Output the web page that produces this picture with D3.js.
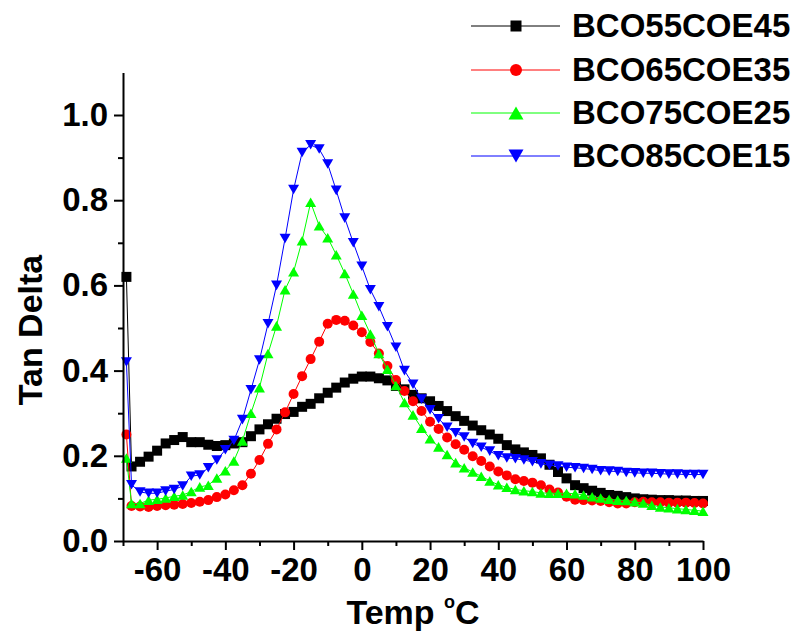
<!DOCTYPE html>
<html>
<head>
<meta charset="utf-8">
<script src="https://cdn.jsdelivr.net/npm/d3@7"></script>
<style>
  html, body { margin: 0; padding: 0; background: #fff; }
  svg { display: block; }
  text { font-family: "Liberation Sans", Arial, Helvetica, sans-serif; font-weight: bold; fill: #000; }
</style>
</head>
<body>
<svg id="chart" width="798" height="633"></svg>
<script>
// ---- data ----
const temps = [-69, -67.5, -65, -62.5, -60, -57.5, -55, -52.5, -50, -47.5, -45, -42.5, -40, -37.5, -35, -32.5,
  -30, -27.5, -25, -22.5, -20, -17.5, -15, -12.5, -10, -7.5, -5, -2.5, 0, 2.5, 5, 7.5, 10, 12.5, 15, 17.5,
  20, 22.5, 25, 27.5, 30, 32.5, 35, 37.5, 40, 42.5, 45, 47.5, 50, 52.5, 55, 57.5, 60, 62.5, 65, 67.5,
  70, 72.5, 75, 77.5, 80, 82.5, 85, 87.5, 90, 92.5, 95, 97.5, 100];

const bco55 = [0.62, 0.175, 0.186, 0.198, 0.212, 0.229, 0.237, 0.244, 0.232, 0.232, 0.226, 0.223, 0.225, 0.229, 0.232, 0.246,
  0.262, 0.274, 0.287, 0.298, 0.303, 0.315, 0.322, 0.335, 0.348, 0.36, 0.372, 0.381, 0.386, 0.386, 0.382, 0.377, 0.364, 0.356, 0.343, 0.335,
  0.328, 0.317, 0.305, 0.293, 0.282, 0.271, 0.26, 0.25, 0.24, 0.225, 0.215, 0.208, 0.202, 0.194, 0.179, 0.162, 0.147, 0.131, 0.124, 0.118,
  0.113, 0.108, 0.106, 0.103, 0.100, 0.098, 0.097, 0.096, 0.096, 0.095, 0.095, 0.094, 0.094];

const bco65 = [0.25, 0.082, 0.081, 0.080, 0.082, 0.084, 0.085, 0.087, 0.089, 0.092, 0.096, 0.103, 0.109, 0.119, 0.131, 0.158,
  0.19, 0.228, 0.262, 0.302, 0.345, 0.387, 0.427, 0.468, 0.51, 0.519, 0.517, 0.506, 0.49, 0.467, 0.44, 0.411, 0.378, 0.352, 0.328, 0.305,
  0.28, 0.263, 0.243, 0.227, 0.214, 0.199, 0.188, 0.175, 0.163, 0.154, 0.145, 0.141, 0.137, 0.131, 0.121, 0.114, 0.104, 0.097, 0.096, 0.095,
  0.094, 0.091, 0.088, 0.088, 0.091, 0.092, 0.091, 0.091, 0.090, 0.090, 0.090, 0.089, 0.088];

const bco75 = [0.195, 0.088, 0.088, 0.096, 0.098, 0.101, 0.105, 0.108, 0.116, 0.127, 0.131, 0.148, 0.165, 0.188, 0.235, 0.30,
  0.36, 0.44, 0.505, 0.59, 0.632, 0.705, 0.795, 0.74, 0.712, 0.672, 0.628, 0.58, 0.53, 0.486, 0.44, 0.403, 0.365, 0.325, 0.296, 0.265,
  0.24, 0.221, 0.203, 0.184, 0.172, 0.162, 0.152, 0.141, 0.132, 0.126, 0.121, 0.118, 0.116, 0.113, 0.112, 0.112, 0.112, 0.111, 0.108, 0.104,
  0.101, 0.098, 0.096, 0.095, 0.092, 0.089, 0.084, 0.080, 0.078, 0.076, 0.074, 0.072, 0.070];

const bco85 = [0.42, 0.132, 0.115, 0.112, 0.112, 0.117, 0.121, 0.129, 0.152, 0.155, 0.172, 0.19, 0.214, 0.236, 0.285, 0.355,
  0.425, 0.51, 0.60, 0.71, 0.825, 0.912, 0.93, 0.92, 0.885, 0.823, 0.758, 0.70, 0.645, 0.59, 0.55, 0.503, 0.455, 0.40, 0.368, 0.333,
  0.308, 0.287, 0.267, 0.254, 0.244, 0.229, 0.22, 0.211, 0.20, 0.195, 0.193, 0.19, 0.186, 0.181, 0.178, 0.176, 0.173, 0.172, 0.170, 0.168,
  0.165, 0.164, 0.163, 0.161, 0.160, 0.159, 0.159, 0.158, 0.157, 0.157, 0.156, 0.156, 0.156];

const seriesNames = ["BCO55COE45", "BCO65COE35", "BCO75COE25", "BCO85COE15"];
const seriesColors = ["#000000", "#ff0000", "#00ff00", "#0000ff"];
const seriesMarkers = ["square", "circle", "triangleUp", "triangleDown"];
const seriesValues = [bco55, bco65, bco75, bco85];

const xMajorTicks = [-60, -40, -20, 0, 20, 40, 60, 80, 100];
const xMinorTicks = [-70, -50, -30, -10, 10, 30, 50, 70, 90];
const yMajorTicks = [0.0, 0.2, 0.4, 0.6, 0.8, 1.0];
const yMinorTicks = [0.1, 0.3, 0.5, 0.7, 0.9];

// ---- layout ----
const svg = d3.select("#chart");
const x = d3.scaleLinear().domain([-70, 100]).range([123, 703]);
const y = d3.scaleLinear().domain([0, 1.1]).range([541, 72.4]);

const series = seriesNames.map((name, i) => ({
  name, color: seriesColors[i], marker: seriesMarkers[i],
  points: temps.map((t, j) => ({ t, v: seriesValues[i][j] }))
}));

function drawMarker(g, type, color, cx, cy, s) {
  if (type === "square") {
    g.append("rect").attr("x", cx - s / 2).attr("y", cy - s / 2).attr("width", s).attr("height", s).attr("fill", color);
  } else if (type === "circle") {
    g.append("circle").attr("cx", cx).attr("cy", cy).attr("r", s / 2).attr("fill", color);
  } else {
    const h = s * 0.87;
    const up = type === "triangleUp";
    const pts = up
      ? [[cx - s / 2, cy + h / 2], [cx + s / 2, cy + h / 2], [cx, cy - h / 2]]
      : [[cx - s / 2, cy - h / 2], [cx + s / 2, cy - h / 2], [cx, cy + h / 2]];
    g.append("path").attr("d", "M" + pts.map(p => p.join(",")).join("L") + "Z").attr("fill", color);
  }
}

const markerSize = { square: 10, circle: 10, triangleUp: 11, triangleDown: 11 };

const line = d3.line().x(d => x(d.t)).y(d => y(d.v));
const plot = svg.append("g");
series.forEach(s => {
  const g = plot.append("g");
  g.append("path").datum(s.points).attr("d", line)
    .attr("fill", "none").attr("stroke", s.color).attr("stroke-width", 1);
  s.points.forEach(p => drawMarker(g, s.marker, s.color, x(p.t), y(p.v), markerSize[s.marker]));
});

// ---- axes ----
const fontSize = 33;
const xAxisG = svg.append("g").attr("transform", "translate(0,541)");
xAxisG.call(d3.axisBottom(x).tickValues(xMajorTicks).tickSize(9).tickSizeOuter(0).tickPadding(8)
  .tickFormat(d => String(d)));
svg.append("g").attr("transform", "translate(0,541)")
  .call(d3.axisBottom(x).tickValues(xMinorTicks).tickSize(5).tickSizeOuter(0).tickFormat(""))
  .select(".domain").remove();

const yAxisG = svg.append("g").attr("transform", "translate(123,0)");
yAxisG.call(d3.axisLeft(y).tickValues(yMajorTicks).tickSize(9).tickSizeOuter(0).tickPadding(6)
  .tickFormat(d3.format(".1f")));
svg.append("g").attr("transform", "translate(123,0)")
  .call(d3.axisLeft(y).tickValues(yMinorTicks).tickSize(5).tickSizeOuter(0).tickFormat(""))
  .select(".domain").remove();

svg.selectAll(".domain").attr("stroke", "#000").attr("stroke-width", 2);
svg.selectAll(".tick line").attr("stroke", "#000").attr("stroke-width", 2);
svg.selectAll(".tick text")
  .style("font-family", "'Liberation Sans', Arial, sans-serif")
  .style("font-weight", "bold").style("font-size", fontSize + "px").attr("fill", "#000");

// axis titles
svg.append("text")
  .attr("transform", "translate(42,330) rotate(-90)")
  .attr("text-anchor", "middle")
  .style("font-size", "34px")
  .text("Tan Delta");

const xt = svg.append("text")
  .attr("x", 413).attr("y", 624)
  .attr("text-anchor", "middle")
  .style("font-size", "34px");
xt.append("tspan").text("Temp ");
xt.append("tspan").attr("dy", -16).style("font-size", "18px").text("o");
xt.append("tspan").attr("dy", 16).text("C");

// ---- legend ----
const legendRows = [26, 70, 113, 156];
series.forEach((s, i) => {
  const g = svg.append("g");
  const ly = legendRows[i];
  g.append("line").attr("x1", 471).attr("x2", 560).attr("y1", ly).attr("y2", ly)
    .attr("stroke", s.color).attr("stroke-width", 1);
  const ms = { square: 11, circle: 12, triangleUp: 15, triangleDown: 15 }[s.marker];
  drawMarker(g, s.marker, s.color, 516, ly, ms);
  g.append("text").attr("x", 572).attr("y", ly + 11)
    .style("font-size", "33px").text(s.name);
});
</script>
</body>
</html>
